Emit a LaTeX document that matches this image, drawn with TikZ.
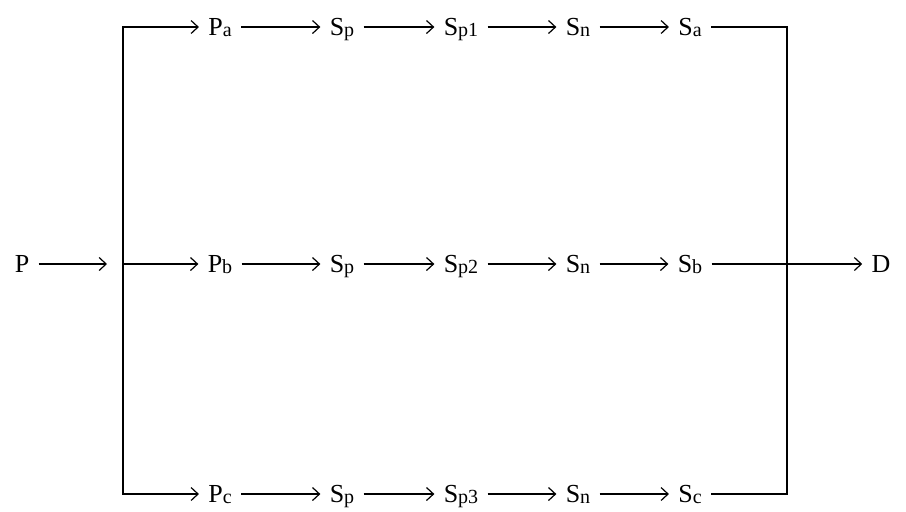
\documentclass[tikz,border=0pt]{standalone}
\usepackage{fontspec}
\setmainfont{Liberation Serif}
\usetikzlibrary{arrows.meta}

\newcommand{\lo}[1]{\raisebox{-0.1ex}{\fontsize{10}{11}\selectfont #1}}

\begin{document}
\begin{tikzpicture}[x=0.5pt,y=-0.5pt,
  lbl/.style={inner xsep=4.5pt, inner ysep=0pt, text height=11pt, text depth=2.4pt,
    font=\fontsize{13}{15}\selectfont},
  ln/.style={line width=0.6pt},
  arr/.style={ln, -{Straight Barb[length=3.5pt,width=6.5pt]}}]

\useasboundingbox (0,0) rectangle (906,511);

\def\ya{27}
\def\yb{264}
\def\yc{494}

\node[lbl] (P) at (22,\yb) {P};
\node[lbl] (D) at (881,\yb) {D};
\coordinate (split) at (123,\yb);
\coordinate (join) at (787,\yb);

% upper row
\node[lbl] (pa)  at (220,\ya) {P\lo{a}};
\node[lbl] (spa) at (342,\ya) {S\lo{p}};
\node[lbl] (sp1) at (461,\ya) {S\lo{p1}};
\node[lbl] (sna) at (578,\ya) {S\lo{n}};
\node[lbl] (sa)  at (690,\ya) {S\lo{a}};

% middle row
\node[lbl] (pb)  at (220,\yb) {P\lo{b}};
\node[lbl] (spb) at (342,\yb) {S\lo{p}};
\node[lbl] (sp2) at (461,\yb) {S\lo{p2}};
\node[lbl] (snb) at (578,\yb) {S\lo{n}};
\node[lbl] (sb)  at (690,\yb) {S\lo{b}};

% lower row
\node[lbl] (pc)  at (220,\yc) {P\lo{c}};
\node[lbl] (spc) at (342,\yc) {S\lo{p}};
\node[lbl] (sp3) at (461,\yc) {S\lo{p3}};
\node[lbl] (snc) at (578,\yc) {S\lo{n}};
\node[lbl] (sc)  at (690,\yc) {S\lo{c}};

\draw[arr, shorten >=8pt] (P) -- (split);
\draw[arr] (split) |- (pa);
\draw[arr] (split) -- (pb);
\draw[arr] (split) |- (pc);

\draw[arr] (pa) -- (spa);
\draw[arr] (spa) -- (sp1);
\draw[arr] (sp1) -- (sna);
\draw[arr] (sna) -- (sa);

\draw[arr] (pb) -- (spb);
\draw[arr] (spb) -- (sp2);
\draw[arr] (sp2) -- (snb);
\draw[arr] (snb) -- (sb);

\draw[arr] (pc) -- (spc);
\draw[arr] (spc) -- (sp3);
\draw[arr] (sp3) -- (snc);
\draw[arr] (snc) -- (sc);

\draw[ln] (sa) -| (join);
\draw[ln] (sc) -| (join);
\draw[arr] (sb) -- (D);

\end{tikzpicture}
\end{document}
